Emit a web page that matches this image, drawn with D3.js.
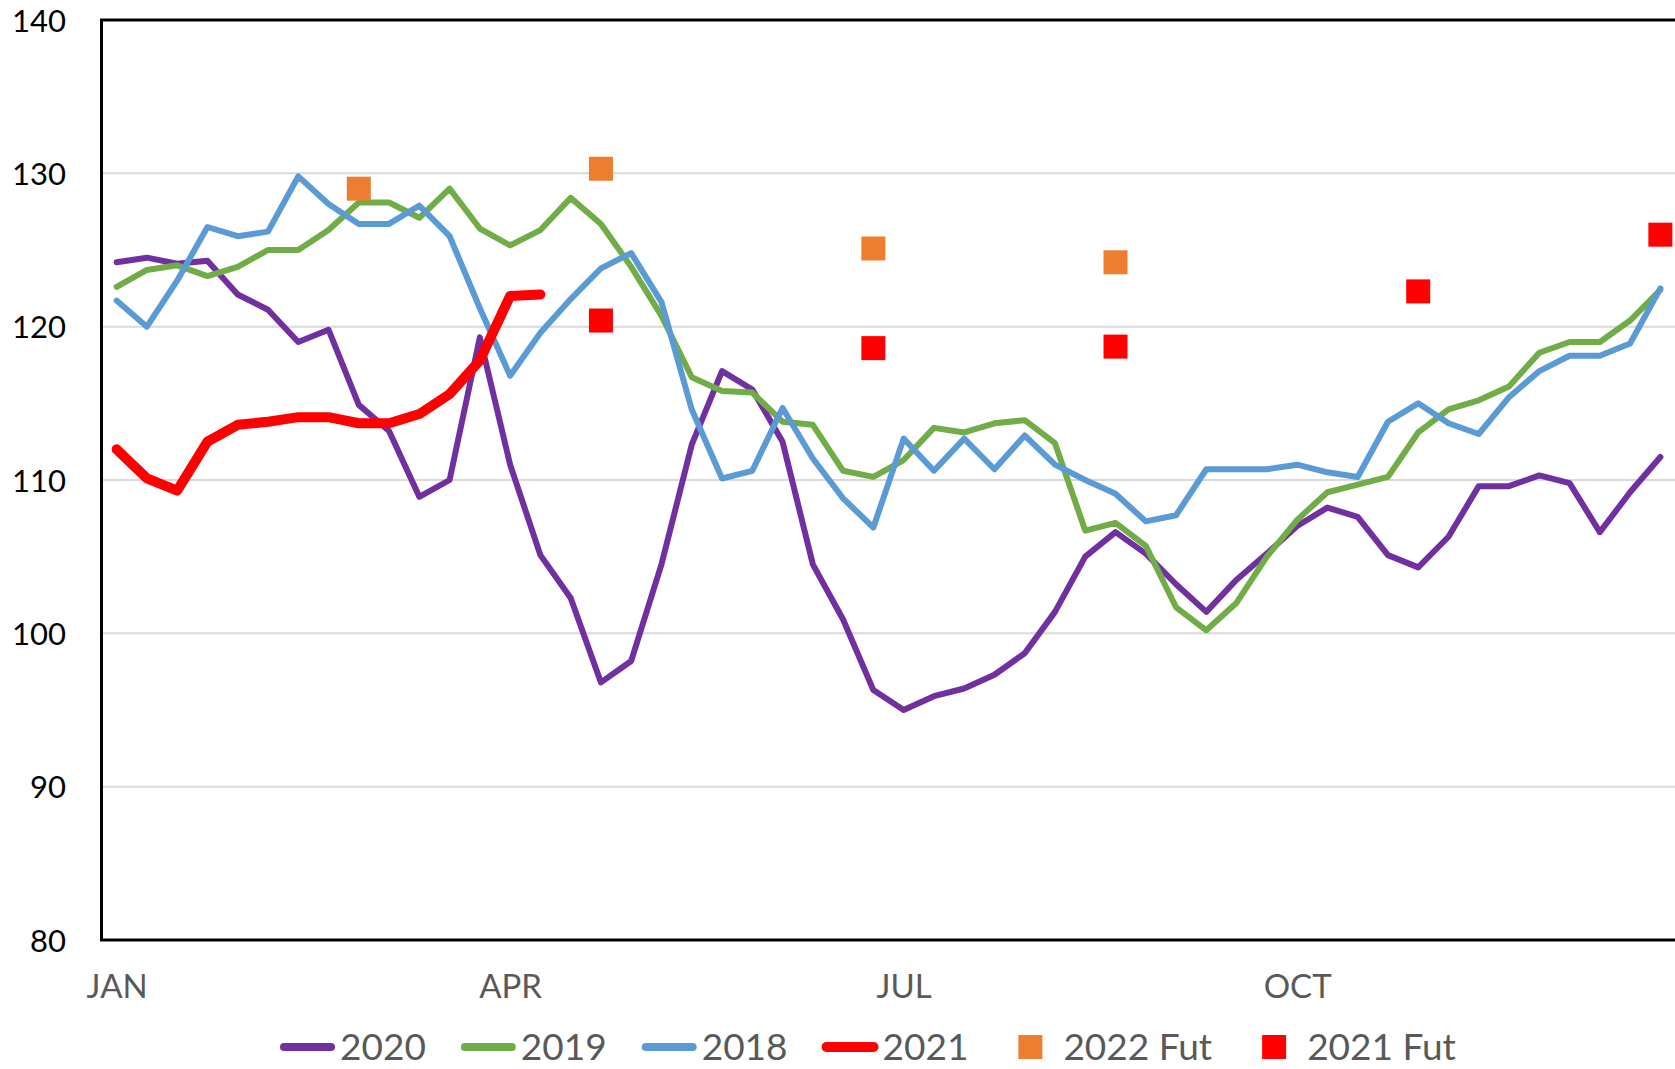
<!DOCTYPE html>
<html>
<head>
<meta charset="utf-8">
<script src="https://cdn.jsdelivr.net/npm/d3@7"></script>
<style>
  body { margin: 0; background: #fff; }
  text { font-family: Lato, "Open Sans", sans-serif; }
</style>
</head>
<body>
<div id="chart"></div>
<script>
// weekly values, week 1..52
var weeks = d3.range(1, 53);
var monthWeeks = [1, 14, 27, 40];
var monthLabels = ["JAN", "APR", "JUL", "OCT"];
var yTicks = [80, 90, 100, 110, 120, 130, 140];

var s2020 = [124.2, 124.5, 124.1, 124.3, 122.1, 121.1, 119.0, 119.8, 114.9, 113.2, 108.9, 110.0, 119.3,
  111.0, 105.1, 102.3, 96.8, 98.2, 104.5, 112.3, 117.1, 115.9, 112.5, 104.5, 100.9, 96.3,
  95.0, 95.9, 96.4, 97.3, 98.7, 101.4, 105.0, 106.6, 105.2, 103.2, 101.4, 103.5, 105.2,
  107.0, 108.2, 107.6, 105.1, 104.3, 106.3, 109.6, 109.6, 110.3, 109.8, 106.6, 109.2, 111.5];
var s2019 = [122.6, 123.7, 124.0, 123.3, 123.9, 125.0, 125.0, 126.3, 128.1, 128.1, 127.1, 129.0, 126.4,
  125.3, 126.3, 128.4, 126.7, 123.9, 120.7, 116.7, 115.8, 115.7, 113.8, 113.6, 110.6, 110.2,
  111.3, 113.4, 113.1, 113.7, 113.9, 112.4, 106.7, 107.2, 105.7, 101.7, 100.2, 102.0, 105.0,
  107.4, 109.2, 109.7, 110.2, 113.1, 114.6, 115.2, 116.1, 118.3, 119.0, 119.0, 120.4, 122.4];
var s2018 = [121.7, 120.0, 123.0, 126.5, 125.9, 126.2, 129.8, 128.0, 126.7, 126.7, 127.9, 125.9, 121.2,
  116.8, 119.6, 121.8, 123.8, 124.8, 121.6, 114.6, 110.1, 110.6, 114.7, 111.4, 108.8, 106.9,
  112.7, 110.6, 112.7, 110.7, 112.9, 111.0, 110.0, 109.1, 107.3, 107.7, 110.7, 110.7, 110.7,
  111.0, 110.5, 110.2, 113.8, 115.0, 113.7, 113.0, 115.4, 117.1, 118.1, 118.1, 118.9, 122.5];
var s2021 = [112.0, 110.1, 109.3, 112.5, 113.6, 113.8, 114.1, 114.1, 113.7, 113.7, 114.3, 115.6, 117.8,
  122.0, 122.1];

var fut2022Weeks = [9, 17, 26, 34];
var fut2022 = [129.0, 130.3, 125.1, 124.2];
var fut2021Weeks = [17, 26, 34, 44, 52];
var fut2021 = [120.4, 118.6, 118.7, 122.3, 126.0];

var W = 1675, H = 1069;
var plotL = 101.5, plotR = 1675.5, plotT = 20, plotB = 940;

var svg = d3.select("#chart").append("svg")
  .attr("width", W).attr("height", H)
  .style("display", "block");

svg.append("rect").attr("width", W).attr("height", H).attr("fill", "#fff");

var x = d3.scalePoint().domain(weeks).range([plotL, plotR]).padding(0.5);
var y = d3.scaleLinear().domain([80, 140]).range([plotB, plotT]);

// gridlines
svg.append("g")
  .selectAll("line")
  .data(yTicks.slice(1, -1))
  .enter().append("line")
  .attr("x1", plotL).attr("x2", plotR)
  .attr("y1", function(d) { return y(d); })
  .attr("y2", function(d) { return y(d); })
  .attr("stroke", "#d9d9d9")
  .attr("stroke-width", 2);

// y axis labels
var yAxis = d3.axisLeft(y).tickValues(yTicks).tickSize(0).tickPadding(0);
var gy = svg.append("g").attr("transform", "translate(66,0)").call(yAxis);
gy.select(".domain").remove();
gy.selectAll("text")
  .attr("font-size", 31)
  .attr("font-family", "Lato, sans-serif")
  .attr("fill", "#000")
  .attr("dy", "0.36em");

// x axis labels
var xAxis = d3.axisBottom(x).tickValues(monthWeeks)
  .tickFormat(function(d, i) { return monthLabels[i]; })
  .tickSize(0).tickPadding(0);
var gx = svg.append("g").attr("transform", "translate(0,975)").call(xAxis);
gx.select(".domain").remove();
gx.selectAll("text")
  .attr("font-size", 33)
  .attr("font-family", "Lato, sans-serif")
  .attr("fill", "#595959")
  .attr("dy", "0.71em");

// plot frame
svg.append("path")
  .attr("d", "M" + plotR + "," + plotT + "H" + plotL + "V" + plotB + "H" + plotR)
  .attr("fill", "none")
  .attr("stroke", "#000")
  .attr("stroke-width", 3);

var line = d3.line()
  .x(function(d, i) { return x(weeks[i]); })
  .y(function(d) { return y(d); });

var series = [
  { name: "2020", values: s2020, color: "#7030A0", width: 6 },
  { name: "2019", values: s2019, color: "#70AD47", width: 6 },
  { name: "2018", values: s2018, color: "#5B9BD5", width: 6 },
  { name: "2021", values: s2021, color: "#FF0000", width: 10 }
];

series.forEach(function(s) {
  svg.append("path")
    .attr("d", line(s.values))
    .attr("fill", "none")
    .attr("stroke", s.color)
    .attr("stroke-width", s.width)
    .attr("stroke-linejoin", "round")
    .attr("stroke-linecap", "round");
});

var markers = [
  { name: "2022 Fut", weeks: fut2022Weeks, values: fut2022, color: "#ED7D31" },
  { name: "2021 Fut", weeks: fut2021Weeks, values: fut2021, color: "#FF0000" }
];
var sq = 24;
markers.forEach(function(m) {
  svg.append("g").selectAll("rect")
    .data(m.values)
    .enter().append("rect")
    .attr("x", function(d, i) { return x(m.weeks[i]) - sq / 2; })
    .attr("y", function(d) { return y(d) - sq / 2; })
    .attr("width", sq).attr("height", sq)
    .attr("fill", m.color);
});

// legend
var legendItems = series.map(function(s) { return { name: s.name, color: s.color, type: "line", width: s.width }; })
  .concat(markers.map(function(m) { return { name: m.name, color: m.color, type: "square" }; }));

var lg = svg.append("g");
var lx = 280, ly = 1047;
legendItems.forEach(function(it) {
  if (it.type == "line") {
    lg.append("line")
      .attr("x1", lx + 4).attr("x2", lx + 51)
      .attr("y1", ly).attr("y2", ly)
      .attr("stroke", it.color)
      .attr("stroke-width", it.width > 6 ? 10 : 8)
      .attr("stroke-linecap", "round");
  } else {
    lg.append("rect")
      .attr("x", lx + 27 - sq / 2).attr("y", ly - sq / 2)
      .attr("width", sq).attr("height", sq)
      .attr("fill", it.color);
  }
  var t = lg.append("text")
    .attr("x", lx + 60).attr("y", ly)
    .attr("dy", "0.35em")
    .attr("font-size", 37)
    .attr("fill", "#595959")
    .text(it.name);
  lx = lx + 60 + t.node().getComputedTextLength() + 35;
});
</script>
</body>
</html>
